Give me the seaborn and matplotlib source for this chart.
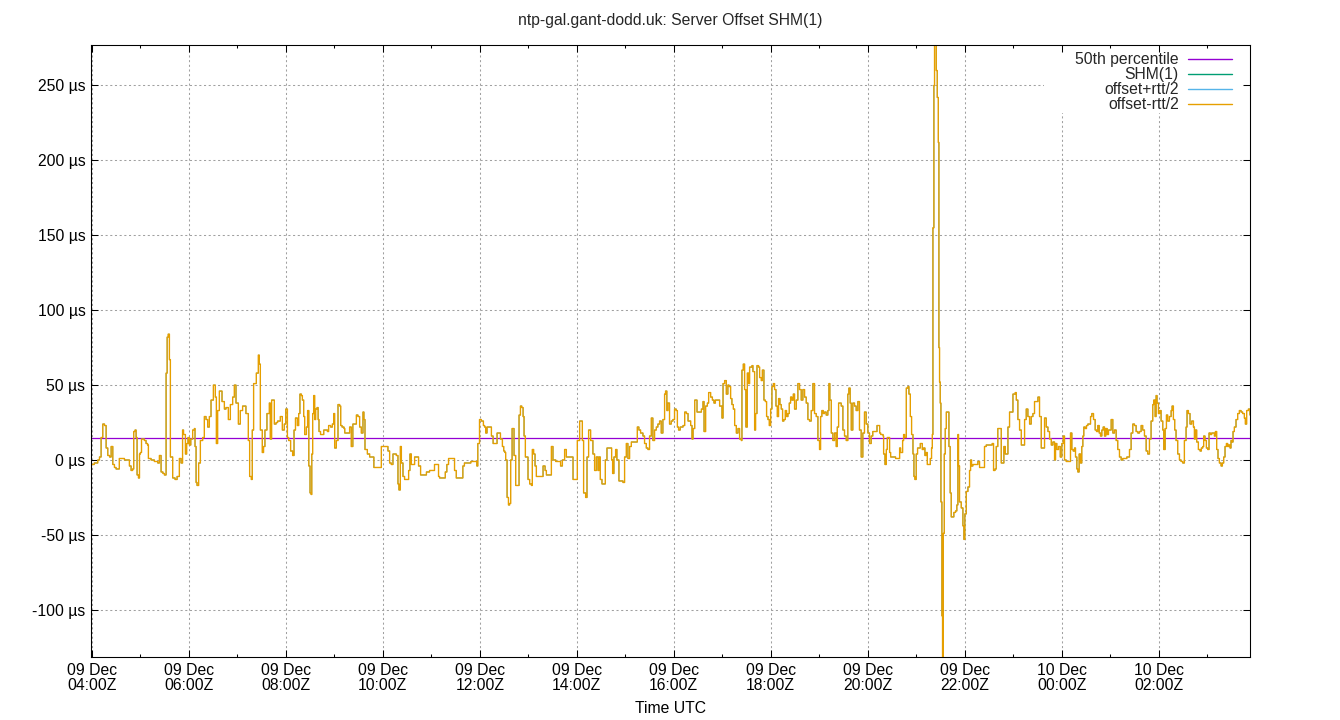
import numpy as np
import pandas as pd
import matplotlib
matplotlib.use('Agg')
import matplotlib.pyplot as plt
import matplotlib.dates as mdates
from matplotlib.lines import Line2D
from matplotlib.patches import Rectangle
from matplotlib.ticker import FuncFormatter, MultipleLocator
import seaborn as sns

# Chart text
title = 'ntp-gal.gant-dodd.uk: Server Offset SHM(1)'
x_label = 'Time UTC'
start_time = '2024-12-09 04:00'

# Legend entries and colours (gnuplot default palette)
series_labels = ['50th percentile', 'SHM(1)', 'offset+rtt/2', 'offset-rtt/2']
series_colors = ['#9400d3', '#009e73', '#56b4e9', '#e69f00']

# 50th percentile of the offset, in microseconds
median_us = 14.7

# Offset samples: minutes after 04:00Z and offset in µs
minutes_a = [-1, 3, 7.4, 9.5, 11.5, 13.6, 15.7, 17.7, 19.8, 22,
             23.9, 26, 28, 30, 32, 34, 36, 40.4, 44.5, 46.5,
             48.6, 50.5, 51.9, 53.5, 54.8, 56, 57.7, 59, 60.1, 61.5,
             63, 65, 67.1, 69, 70, 73.3, 77.4, 81.6, 83.6, 85.7,
             88, 89.8, 91.9, 93.2, 94.5, 96, 97.2, 100.1, 103, 105.5,
             108.3, 110.4, 112.3, 113.5, 115.8, 117.4, 119, 120.7, 122.5, 124.8,
             126.9, 127.7, 129, 130.2, 132.2, 134.3, 137.2, 139.2, 141.3, 143.4,
             145.4, 147.5, 150.4, 152.8, 154.1, 155.7, 157.8, 161.1, 164, 166,
             168.9, 171.4, 174.3, 176.3, 178.4, 181.3, 183.7, 186.6, 190.7, 193.6,
             195.3, 197.3, 198.5, 200.2, 203.5, 206, 207.2, 208.5, 210.9, 212.5,
             214.2, 216.7, 219.6, 220.8, 222.5, 225.8, 228, 229.9, 233.2, 235.7,
             238.1]
offset_a = [-3, -2, 0, 2, 15, 24, 23, 8, 3, 2,
            9, -3, -5, -6, -6, 1, 1, 0, 0, -4,
            -7, -6, 19, 20, 15, -10, -12, 4, 5, 14,
            14, 13, 11, 10, 1, 0, -1, -2, 3, -8,
            -9, -10, 58, 82, 84, 67, 2, -12, -13, -11,
            1, -2, 20, 17, 4, 11, 15, 10, 14, 20,
            21, 9, -15, -17, -2, 13, 15, 29, 27, 22,
            29, 40, 50, 42, 11, 33, 46, 39, 34, 35,
            27, 37, 42, 50, 38, 24, 33, 36, 31, 13,
            -11, -13, 20, 51, 58, 70, 64, 20, 5, 9,
            20, 31, 38, 14, 40, 24, 25, 26, 29, 20,
            24]

minutes_b = [240, 242, 243.6, 246, 248.5, 250.2, 252, 254.3, 256, 257.5,
             259.3, 260.5, 262.2, 263.4, 265.5, 267, 268.5, 270, 271.3, 272.2,
             273.3, 274.5, 275.8, 277, 278.7, 280, 281.1, 283, 287, 291.5,
             293, 295.5, 297.6, 299.3, 300.5, 302.5, 304.6, 306.7, 308, 309.6,
             312, 313, 319, 321, 323, 327.3, 329.3, 331.4, 333.4, 335.5,
             336.7, 338, 340.9, 343.8, 349, 358.2, 366.4, 368.5, 370.5, 372.6,
             376.7, 378.8, 380, 381.7, 383, 385, 387, 392, 393.6, 395.3,
             399.4, 404.3, 406.8, 414, 417.9, 424, 429, 430.3, 437.3, 439.3,
             441.4, 448.8, 450.9, 459.1, 461, 469, 476.4, 477.6, 479.7]
offset_b = [34, 15, 13, 6, 3, 20, 28, 23, 31, 44,
            43, 40, 29, 17, 22, 33, -4, -22, -23, 4,
            31, 43, 27, 34, 35, 27, 19, 17, 20, 19,
            23, 22, 24, 31, 8, 13, 37, 36, 23, 22,
            21, 18, 22, 9, 24, 30, 29, 22, 18, 32,
            27, 7, 4, 2, -5, 9, 6, -2, -3, 4,
            3, -16, -20, 9, -2, -11, -13, -7, 4, -3,
            2, -4, -10, -8, -7, -3, -11, -12, -8, -3,
            1, -7, -12, -4, -2, -1, -4, 11, 27]

minutes_c = [482, 484.5, 486, 487.4, 489, 494.4, 496.5, 501.4, 505.6, 508,
             509.7, 511, 512.1, 513.8, 515.5, 517, 518.3, 520, 522.4, 524.5,
             528.6, 530.3, 532, 533.6, 534.8, 536.4, 539.7, 541.8, 543.9, 545,
             546.7, 548.4, 550, 558.3, 560.8, 562.4, 568.6, 570.6, 574, 580,
             582.2, 585, 587.1, 595.4, 600.7, 603.6, 606.9, 608.5, 611, 612.7,
             614.7, 617.2, 620, 622.1, 624.2, 626.3, 627.5, 629.1, 631.2, 635.3,
             637.4, 643.2, 644.4, 646, 648.1, 649.7, 652.2, 657.2, 659.2, 661.3,
             663.3, 665.4, 667.5, 674.9, 676.9, 679, 681.9, 683.9, 686, 688.1,
             690.1, 692.2, 694.2, 696.3, 698.4, 700.4, 702.5, 704.5, 706.6, 708.7,
             709.9, 711.5, 712.8, 714.8, 716.9, 719, 721]
offset_c = [26, 23, 22, 18, 22, 16, 11, 18, 14, 9,
            6, 5, 0, -25, -30, -29, 0, 21, 3, -17,
            30, 36, 35, 29, 16, 2, -13, -16, -17, 7,
            4, -4, -11, -4, -7, -10, 9, 0, -1, -4,
            0, 7, 2, -13, 13, 26, 13, -22, -25, 2,
            20, 13, 4, -7, 2, -7, 2, -13, -16, 0,
            8, 0, -9, 2, 7, 0, -14, -15, 2, 11,
            1, 9, 12, 22, 20, 18, 16, 11, 8, 7,
            16, 28, 13, 20, 22, 24, 26, 18, 27, 44,
            46, 33, 38, 24, 26, 27, 34]

minutes_d = [723, 724.5, 726, 728, 731.5, 733.6, 735.6, 737.7, 741, 742.6,
             743.9, 746, 748.8, 754.2, 756.2, 757.5, 759.5, 761.6, 763.2, 765.7,
             767.8, 769.8, 771.5, 776.8, 779.7, 781, 783, 785, 787, 788.4,
             790.4, 792, 793.7, 795.4, 797.4, 799.5, 801.5, 803.6, 804.4, 806,
             807.7, 809.3, 811, 812.7, 813.9, 816.8, 818, 820.1, 821.3, 823,
             825, 826.3, 828.3, 829.6, 831.6, 833.3, 834.9, 836.6, 838.2, 839.9,
             841.5, 843.2, 844.8, 846.5, 848.1, 849.7, 851.4, 853, 854.7, 856.3,
             858, 859.6, 861.3, 862.9, 864.6, 866.2, 867.9, 869.5, 871.6, 873.6,
             875.7, 877.7, 879.8, 881.9, 883.9, 886, 888, 890.1, 892.2, 894.2,
             896.3, 898.4, 900.4, 901.7, 903.3, 905, 906.6, 908.6, 910.7, 912,
             913.2, 914.9, 916.9, 919, 921, 922.3, 924, 927.2, 929.3, 931.3,
             933.4, 935.4, 936.7, 938.3, 939.6, 941.6, 943.7, 945.7, 947.8, 949.8,
             951.9, 954, 956, 958.1, 960.2, 962.2, 964.3, 966.3]
offset_d = [33, 22, 20, 22, 23, 32, 31, 26, 23, 14,
            21, 40, 32, 34, 39, 19, 36, 38, 45, 42,
            40, 38, 40, 36, 28, 51, 53, 44, 50, 49,
            41, 37, 34, 23, 18, 21, 14, 13, 60, 64,
            47, 22, 58, 51, 62, 63, 59, 20, 31, 63,
            62, 55, 53, 60, 40, 39, 29, 27, 23, 34,
            49, 51, 47, 36, 29, 41, 37, 34, 26, 27,
            33, 29, 31, 38, 42, 40, 44, 34, 40, 51,
            47, 40, 47, 42, 38, 27, 26, 33, 51, 31,
            29, 13, 7, 29, 33, 31, 32, 30, 33, 51,
            40, 18, 13, 18, 9, 22, 38, 36, 20, 16,
            13, 44, 48, 38, 20, 38, 36, 33, 39, 20,
            2, 18, 32, 24, 18, 11, 16, 19]

minutes_e = [968, 971.5, 974.8, 976.1, 979, 979.7, 981.4, 983, 984.2, 987.1,
             988.4, 994.5, 999.5, 1000.7, 1003.2, 1004.4, 1005.7, 1007.7, 1009.8, 1011,
             1012.7, 1014.3, 1016, 1017.2, 1018.4, 1020, 1021.7, 1025, 1027.5, 1029.1,
             1030.8, 1032.4, 1033.7, 1037.4, 1039, 1039.9, 1040.7, 1041.9, 1042.7, 1044.8,
             1046, 1047.3, 1048.1, 1048.9, 1049.7, 1050.6, 1051.8, 1052.6, 1053.5, 1054.7,
             1055.9, 1057.2, 1060.5, 1062, 1063.3, 1066.6, 1068.7, 1070.3, 1071.6, 1072.4,
             1073.6, 1075.7, 1077.8, 1079, 1080.2, 1081.9, 1084, 1086, 1087.3, 1088.5,
             1090.1, 1096.3, 1098.4, 1104.5, 1106.6, 1114, 1115.7, 1117.5, 1119, 1121,
             1125.2, 1128.5, 1130.2, 1133.5, 1135.5, 1139.7, 1142.5, 1143.8, 1145.8, 1147.9]
offset_e = [19, 23, 18, 17, 16, 4, -3, 7, 15, 5,
            2, 1, 8, 5, 13, 17, 15, 48, 49, 44,
            29, 17, 4, -11, -13, 4, 8, 11, 7, 8,
            3, 5, -3, 1, 8, 17, 155, 250, 285, 260,
            242, 212, 75, 52, 38, -28, -104, -140, -49, 4,
            21, 32, 9, -22, -38, -35, -34, -30, 17, -4,
            -28, -32, -44, -53, -36, -21, -18, -7, 0, -4,
            -3, -1, -5, 9, 10, 11, -7, -6, 9, 21,
            -2, 9, 4, 22, 32, 44, 45, 40, 27, 20]

minutes_f = [1150, 1154.1, 1156.1, 1158.2, 1160.3, 1162.3, 1164.4, 1166.4, 1170.6, 1172.6,
             1174.7, 1178.8, 1180.9, 1183, 1185, 1187.1, 1189.1, 1191.2, 1192.4, 1194,
             1196.1, 1198.2, 1200.2, 1201.9, 1203.5, 1205.6, 1210.9, 1212.6, 1214.2, 1215.9,
             1217.1, 1218.8, 1220, 1221.6, 1223.3, 1224.9, 1226.2, 1227.4, 1229.1, 1230.7,
             1232.4, 1235.7, 1237.3, 1239.4, 1241.4, 1243.1, 1244.7, 1246.4, 1248, 1249.7,
             1251.3, 1253, 1254.6, 1256.3, 1257.9, 1261.2, 1263.3, 1265.3, 1267.4, 1269.4,
             1271.5, 1273.6, 1275.6, 1280.6, 1283.9, 1285.9, 1288, 1290, 1292.1, 1294.2,
             1296.2, 1298.3, 1300.3, 1302.4, 1304.5, 1306.5, 1308.6, 1310.6, 1312.7, 1313.9,
             1315.6, 1316.8, 1318, 1319.7, 1321.4, 1323, 1325.1, 1326.3, 1328, 1329.6,
             1331.2, 1333.3, 1335.4, 1336.6, 1338.2, 1339.9, 1341.5, 1343.6, 1345.7, 1347.7,
             1349.8, 1351.8, 1353.9, 1355.1, 1356.8, 1358.8, 1360.9, 1363, 1364.2, 1365.4,
             1367.1, 1369.1, 1371.2, 1372.8, 1374.5, 1375.7, 1377.3, 1379, 1380.7, 1382.3,
             1384, 1385.6, 1388.9, 1390.2, 1391.8, 1393.4, 1395.1, 1397.2, 1398.8, 1400.5,
             1402.1, 1403.8, 1405.4, 1406.7, 1408.3, 1409.5, 1410.8, 1412, 1413.6, 1415.7,
             1417.8, 1419.8, 1421.9, 1423.9, 1426, 1427.2, 1428.9, 1431, 1433]
offset_f = [10, 27, 34, 29, 24, 29, 31, 39, 42, 29,
            8, 28, 22, 19, 14, 10, 12, 0, 11, 7,
            9, 2, 11, 16, 0, -1, 18, 7, 6, 8,
            2, -6, -8, 4, -2, 9, 16, 22, 21, 23,
            24, 29, 31, 27, 20, 19, 23, 18, 16, 20,
            22, 16, 21, 17, 20, 27, 18, 20, 13, 7,
            2, 0, 1, 2, 7, 18, 24, 23, 19, 18,
            19, 23, 20, 16, 6, 4, 14, 26, 37, 40,
            29, 43, 38, 31, 33, 26, 20, 7, 21, 30,
            26, 29, 33, 36, 27, 20, 13, 4, 0, -1,
            -2, 13, 22, 33, 31, 24, 26, 22, 14, 20,
            12, 7, 6, 8, 9, 16, 13, 8, 7, 18,
            17, 18, 16, 19, 7, 1, -2, -4, -2, 2,
            9, 11, 9, 10, 8, 13, 12, 19, 22, 27,
            31, 33, 32, 31, 28, 24, 33, 34, 30]

minutes = minutes_a + minutes_b + minutes_c + minutes_d + minutes_e + minutes_f
offset_us = offset_a + offset_b + offset_c + offset_d + offset_e + offset_f
assert len(minutes) == len(offset_us)

df = pd.DataFrame({
    'time': pd.Timestamp(start_time) + pd.to_timedelta(minutes, unit='min'),
    'offset': offset_us,
})

sns.set_theme(style='ticks')
plt.rcParams['font.family'] = ['Liberation Sans', 'DejaVu Sans']
plt.rcParams['font.size'] = 11.3

W, H = 1340, 720
fig = plt.figure(figsize=(W / 100, H / 100), dpi=100)
ax = fig.add_axes([91 / W, 63 / H, 1159 / W, 612 / H])

# median line first, then the three offset curves (they coincide for a refclock,
# so only the last one drawn is visible)
ax.axhline(median_us, color=series_colors[0], linewidth=0.9, zorder=2)
for col, lw in zip(series_colors[1:], [0.4, 0.4, 1.0]):
    sns.lineplot(data=df, x='time', y='offset', ax=ax, color=col, linewidth=lw,
                 drawstyle='steps-post', errorbar=None, zorder=3)

# axes ranges and ticks
ax.set_xlim(df['time'].iloc[0], df['time'].iloc[-1])
ax.set_ylim(-131.5, 277)
ax.xaxis.set_major_locator(mdates.HourLocator(byhour=range(0, 24, 2)))
ax.xaxis.set_minor_locator(mdates.HourLocator())
ax.xaxis.set_major_formatter(mdates.DateFormatter('%d %b\n%H:%MZ'))
ax.yaxis.set_major_locator(MultipleLocator(50))
ax.yaxis.set_major_formatter(FuncFormatter(lambda v, p: f'{v:.0f} µs'))

ax.tick_params(which='both', direction='in', top=False, right=True, bottom=True,
               left=True, colors='black', labelsize=11.3, width=0.75)
ax.tick_params(which='major', length=5, pad=4)
ax.tick_params(which='minor', length=2.5)
ax.grid(which='major', color='#a0a0a0', linestyle=(0, (2, 2.5)), linewidth=0.75)
for sp in ax.spines.values():
    sp.set_color('black')
    sp.set_linewidth(0.75)

ax.set_xlabel(x_label, fontsize=11.3, color='black', labelpad=5.5)
ax.set_ylabel('')
fig.text(0.5, 1 - 21 / H, title, ha='center', va='center', fontsize=11.3)

# white key background that hides the grid under the legend
ax.add_patch(Rectangle(((1044 - 91) / 1159, 1 - (113 - 45) / 612),
                       (1242 - 1044) / 1159, (113 - 45) / 612,
                       transform=ax.transAxes, facecolor='white',
                       edgecolor='none', zorder=2.4))

# legend: text on the left, line sample on the right
handles = [Line2D([], [], color=c, linewidth=1.0) for c in series_colors]
ax.legend(handles, series_labels, loc='upper right', markerfirst=False,
          frameon=False, fontsize=11.3, handlelength=2.8,
          handletextpad=0.6, labelspacing=0.0, borderpad=0.0,
          borderaxespad=0.0,
          bbox_to_anchor=((1232 - 91) / 1159, 1 - (52 - 45) / 612))

# mirrored ticks on top, drawn above the key background
ax_top = ax.twiny()
ax_top.set_xlim(ax.get_xlim())
ax_top.xaxis.set_major_locator(mdates.HourLocator(byhour=range(0, 24, 2)))
ax_top.xaxis.set_minor_locator(mdates.HourLocator())
ax_top.tick_params(which='both', direction='in', top=True, bottom=False,
                   labeltop=False, colors='black', width=0.75)
ax_top.tick_params(which='major', length=5)
ax_top.tick_params(which='minor', length=2.5)
ax_top.grid(False)
for sp in ax_top.spines.values():
    sp.set_color('black')
    sp.set_linewidth(0.75)

fig.canvas.draw()
for lab in ax.get_xticklabels():
    lab.set_linespacing(1.05)

fig.savefig('out.png', dpi=100)
